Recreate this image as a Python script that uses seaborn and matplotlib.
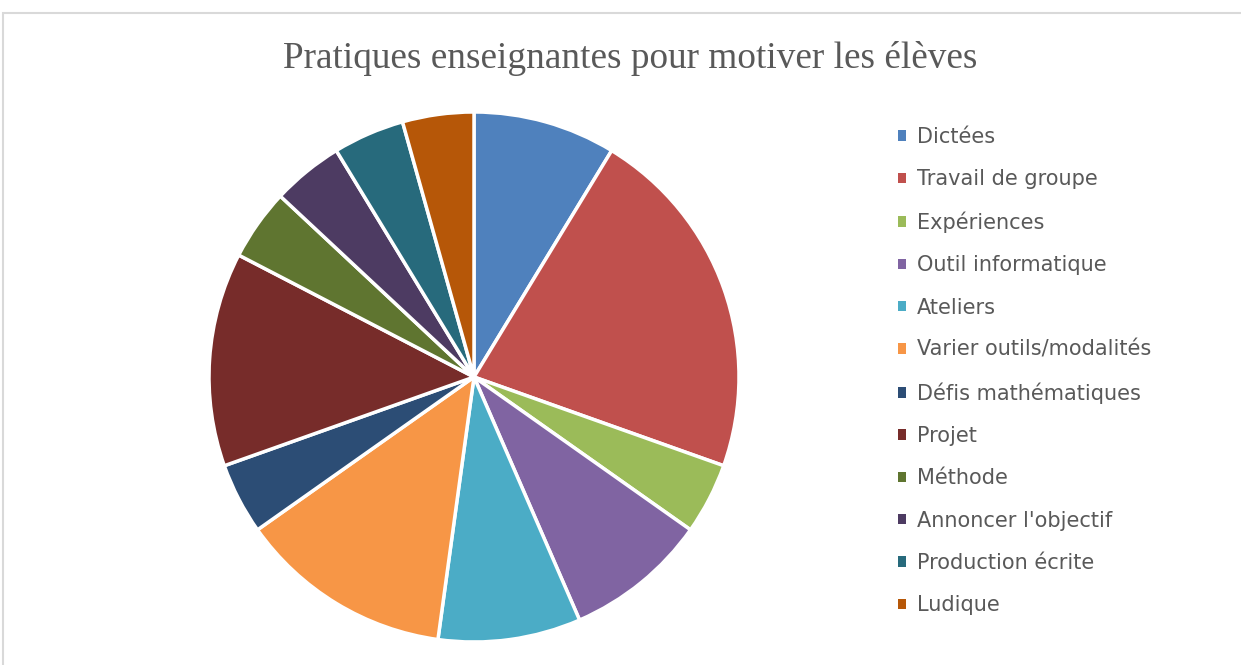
import seaborn as sns
import matplotlib.pyplot as plt
from matplotlib.patches import Rectangle, Patch

categories = ["Dictées", "Travail de groupe", "Expériences", "Outil informatique",
              "Ateliers", "Varier outils/modalités", "Défis mathématiques", "Projet",
              "Méthode", "Annoncer l'objectif", "Production écrite", "Ludique"]
counts = [2, 5, 1, 2, 2, 3, 1, 3, 1, 1, 1, 1]
colors = ["#4F81BD", "#C0504D", "#9BBB59", "#8064A2", "#4BACC6", "#F79646",
          "#2C4D75", "#772C2A", "#5F7530", "#4D3B62", "#276A7C", "#B65708"]

sns.set_theme(style="white")
plt.rcParams['font.family'] = ['DejaVu Sans']
palette = sns.color_palette(colors)

W, H = 1241, 665
fig = plt.figure(figsize=(W / 100, H / 100), dpi=100)

# chart border (light grey frame)
fig.patches.append(Rectangle((3 / W, -0.05), 1.1, (H - 13) / H + 0.05,
                             transform=fig.transFigure, fill=False,
                             edgecolor="#D9D9D9", linewidth=1.5))

ax = fig.add_axes([208 / W, (H - 642) / H, 532 / W, 530 / H])
ax.pie(counts, colors=palette, startangle=90, counterclock=False,
       wedgeprops=dict(edgecolor="white", linewidth=2.5))
ax.set_xlim(-1, 1)
ax.set_ylim(-1, 1)
ax.set_aspect("equal")
ax.axis("off")

fig.text(630 / W, 1 - 58 / H, "Pratiques enseignantes pour motiver les élèves",
         ha="center", va="center", fontsize=26.8, color="#595959",
         family=["Liberation Serif"])

handles = [Patch(facecolor=c, edgecolor="none") for c in palette]
fig.legend(handles, categories, loc="upper left",
           bbox_to_anchor=(898 / W, 1 - 127 / H), frameon=False,
           fontsize=15, labelcolor="#595959", labelspacing=1.07,
           handlelength=0.4, handleheight=0.4, handletextpad=0.5,
           borderpad=0, borderaxespad=0)

fig.savefig("out.png", dpi=100)
